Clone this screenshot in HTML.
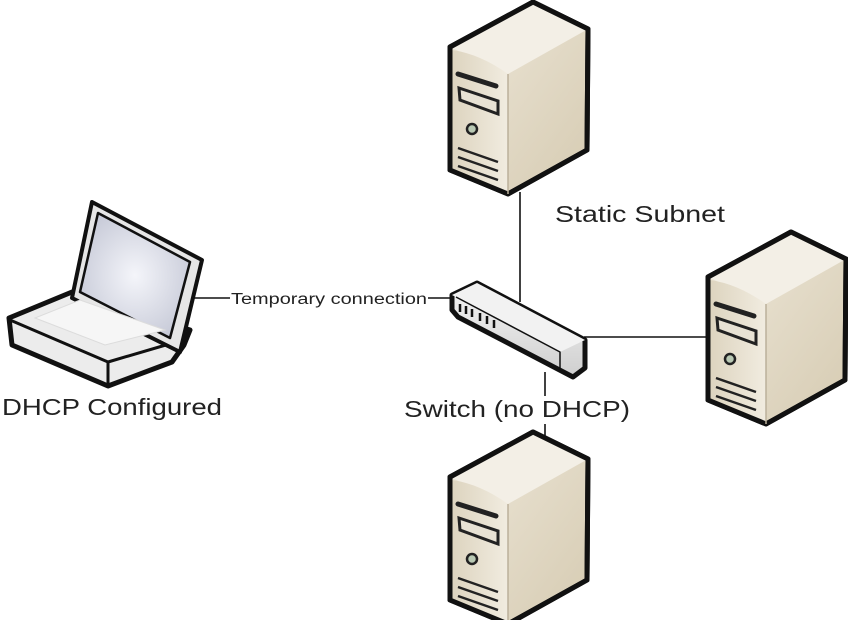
<!DOCTYPE html>
<html><head><meta charset="utf-8"><style>
html,body{margin:0;padding:0;background:#fff;}
svg{display:block}
text{font-family:"Liberation Sans",sans-serif;fill:#222}
</style></head><body>
<svg width="848" height="620" viewBox="0 0 848 620" xmlns="http://www.w3.org/2000/svg">
<defs>
<linearGradient id="side" x1="0" y1="0" x2="1" y2="1">
<stop offset="0" stop-color="#eee8da"/><stop offset="1" stop-color="#d6cbb2"/></linearGradient>
<linearGradient id="front" x1="0" y1="0" x2="1" y2="0">
<stop offset="0" stop-color="#ddd4bf"/><stop offset="1" stop-color="#f1ece0"/></linearGradient>
<radialGradient id="scr" cx="0.5" cy="0.5" r="0.6">
<stop offset="0" stop-color="#f4f5fa"/><stop offset="1" stop-color="#c5c8d6"/></radialGradient>
<linearGradient id="sw" x1="0" y1="0" x2="0" y2="1">
<stop offset="0" stop-color="#f5f5f5"/><stop offset="1" stop-color="#cfcfcf"/></linearGradient>
<g id="srv">
<polygon points="0,45 83,0 138,27 137,148 58,192 0,168" fill="url(#side)" stroke="#111" stroke-width="5" stroke-linejoin="round"/>
<polygon points="0,45 83,0 138,27 58,72" fill="#f3efe6"/>
<path d="M2,48 Q30,52 58,72 L58,190 L2,167 Z" fill="url(#front)"/>
<polygon points="0,45 83,0 138,27 137,148 58,192 0,168" fill="none" stroke="#111" stroke-width="5" stroke-linejoin="round"/>
<path d="M58,72 L58,192" stroke="#bbb09a" stroke-width="1.5"/>
<path d="M8,72 L46,84" stroke="#222" stroke-width="5" stroke-linecap="round"/>
<path d="M9,86 L48,99 L48,112 L10,98 Z" fill="#e8e2d4" stroke="#222" stroke-width="3"/>
<circle cx="22" cy="127" r="5" fill="#b9c9b4" stroke="#222" stroke-width="2.5"/>
<path d="M8,146 L48,160 M8,155 L48,169 M8,164 L48,178" stroke="#222" stroke-width="2.5"/>
</g>
</defs>
<g stroke="#111" stroke-width="1.6">
<line x1="520" y1="192" x2="520" y2="302"/>
<line x1="188" y1="298" x2="230" y2="298"/>
<line x1="428" y1="298" x2="455" y2="298"/>
<line x1="584" y1="337" x2="710" y2="337"/>
<line x1="545" y1="372" x2="545" y2="455"/>
</g>
<use href="#srv" x="450" y="2"/>
<use href="#srv" x="708" y="232"/>
<use href="#srv" x="450" y="432"/>
<!-- switch -->
<g stroke="#111" stroke-linejoin="round">
<polygon points="452,295 477,283 585,340 585,368 573,377 458,317 452,310" fill="url(#sw)" stroke-width="5"/>
<polygon points="452,295 477,283 585,340 560,352" fill="#f2f2f2" stroke="none"/>
<path d="M456,297 L560,352 L560,372" fill="none" stroke-width="1.5"/>
<path d="M460,304 v8 M466,306 v8 M472,309 v8 M480,313 v8 M487,316 v8 M494,320 v8" stroke-width="2.5"/>
</g>
<!-- laptop -->
<g stroke="#111" stroke-linejoin="round" stroke-width="5">
<polygon points="72,292 9,318 12,345 108,386 172,362 184,345 190,330" fill="#ececec"/>
<path d="M10,320 L108,362 L108,386 M108,362 L176,342" fill="none" stroke-width="3"/>
<polygon points="92,202 202,260 180,352 72,298" fill="#e6e6e6" stroke-width="4"/>
<polygon points="98,213 190,262 170,338 80,292" fill="url(#scr)" stroke-width="2.5"/>
</g>
<g fill="#f6f6f6" stroke="#dcdcdc" stroke-width="1">
<path d="M35,318 L105,345 L165,330 L80,300 Z"/>
</g>
<rect x="402" y="396" width="230" height="28" fill="#fff"/>
<text x="555" y="222" font-size="23" textLength="170" lengthAdjust="spacingAndGlyphs">Static Subnet</text>
<text x="2" y="415" font-size="23" textLength="220" lengthAdjust="spacingAndGlyphs">DHCP Configured</text>
<text x="404" y="417" font-size="23" textLength="226" lengthAdjust="spacingAndGlyphs">Switch (no DHCP)</text>
<text x="231" y="304" font-size="15.5" textLength="196" lengthAdjust="spacingAndGlyphs">Temporary connection</text>
</svg>
</body></html>
